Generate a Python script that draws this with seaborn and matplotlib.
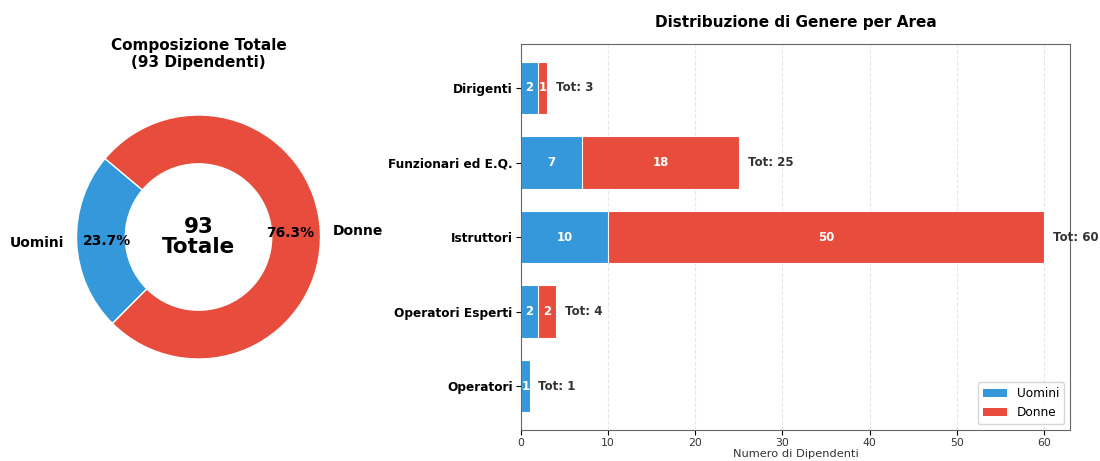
import pandas as pd
import numpy as np
import seaborn as sns
import matplotlib.pyplot as plt
from matplotlib.patches import Patch

# dati
aree = ["Dirigenti", "Funzionari ed E.Q.", "Istruttori", "Operatori Esperti", "Operatori"]
uomini = [2, 7, 10, 2, 1]
donne = [1, 18, 50, 2, 0]
labels_genere = ["Uomini", "Donne"]

BLU = "#3498db"
ROSSO = "#e74c3c"

df = pd.DataFrame({"Area": aree, "Uomini": uomini, "Donne": donne})
df["Totale"] = df["Uomini"] + df["Donne"]
tot_u = int(df["Uomini"].sum())
tot_d = int(df["Donne"].sum())
totale = tot_u + tot_d

plt.rcParams["font.family"] = ["DejaVu Sans"]
fig = plt.figure(figsize=(11, 4.61), dpi=100)

# --- torta ---
ax1 = fig.add_axes([0.0418, 0.1551, 0.2773, 0.6616])
wedges, texts, autotexts = ax1.pie(
    [tot_u, tot_d],
    labels=labels_genere,
    colors=[BLU, ROSSO],
    autopct="%1.1f%%",
    startangle=140,
    pctdistance=0.75,
    wedgeprops=dict(width=0.4, edgecolor="white"),
    textprops=dict(fontsize=10, fontweight="bold"),
)
for t in autotexts:
    t.set_fontsize(10)
    t.set_color("black")
ax1.text(0, 0, f"{totale}\nTotale", ha="center", va="center",
         fontsize=15.5, fontweight="bold", linespacing=1.05)
ax1.set_title(f"Composizione Totale\n({totale} Dipendenti)",
              fontsize=11, fontweight="bold", pad=12.5)
ax1.set_aspect("equal")

# --- barre ---
ax2 = fig.add_axes([0.4736, 0.0672, 0.4991, 0.8373])
sns.barplot(data=df, y="Area", x="Totale", color=ROSSO, orient="h",
            width=0.7, edgecolor="white", linewidth=0.8, saturation=1, ax=ax2)
sns.barplot(data=df, y="Area", x="Uomini", color=BLU, orient="h",
            width=0.7, edgecolor="white", linewidth=0.8, saturation=1, ax=ax2)

for i, row in df.iterrows():
    u, d, t = row["Uomini"], row["Donne"], row["Totale"]
    if u > 0:
        ax2.text(u / 2, i, str(u), ha="center", va="center",
                 color="white", fontsize=8.5, fontweight="bold")
    if d > 0:
        ax2.text(u + d / 2, i, str(d), ha="center", va="center",
                 color="white", fontsize=8.5, fontweight="bold")
    ax2.text(t + 1, i, f"Tot: {t}", ha="left", va="center",
             color="#333333", fontsize=8.5, fontweight="bold")

ax2.set_xlim(0, 63)
ax2.set_ylim(4.59, -0.59)
ax2.set_ylabel("")
ax2.set_xlabel("Numero di Dipendenti", fontsize=8.2, color="#333333", labelpad=1)
ax2.set_title("Distribuzione di Genere per Area", fontsize=11,
              fontweight="bold", pad=12)
ax2.grid(axis="x", linestyle="--", alpha=0.3)
ax2.set_axisbelow(True)
for lbl in ax2.get_yticklabels():
    lbl.set_fontweight("bold")
    lbl.set_fontsize(8.7)
ax2.tick_params(axis="x", labelsize=7.8, labelcolor="#333333", pad=2)
ax2.tick_params(axis="y", pad=2.5)
for s in ax2.spines.values():
    s.set_color("#666666")

handles = [Patch(facecolor=BLU, label="Uomini"), Patch(facecolor=ROSSO, label="Donne")]
ax2.legend(handles=handles, loc="lower right", fontsize=8.7)

fig.savefig("out.png", dpi=100)
